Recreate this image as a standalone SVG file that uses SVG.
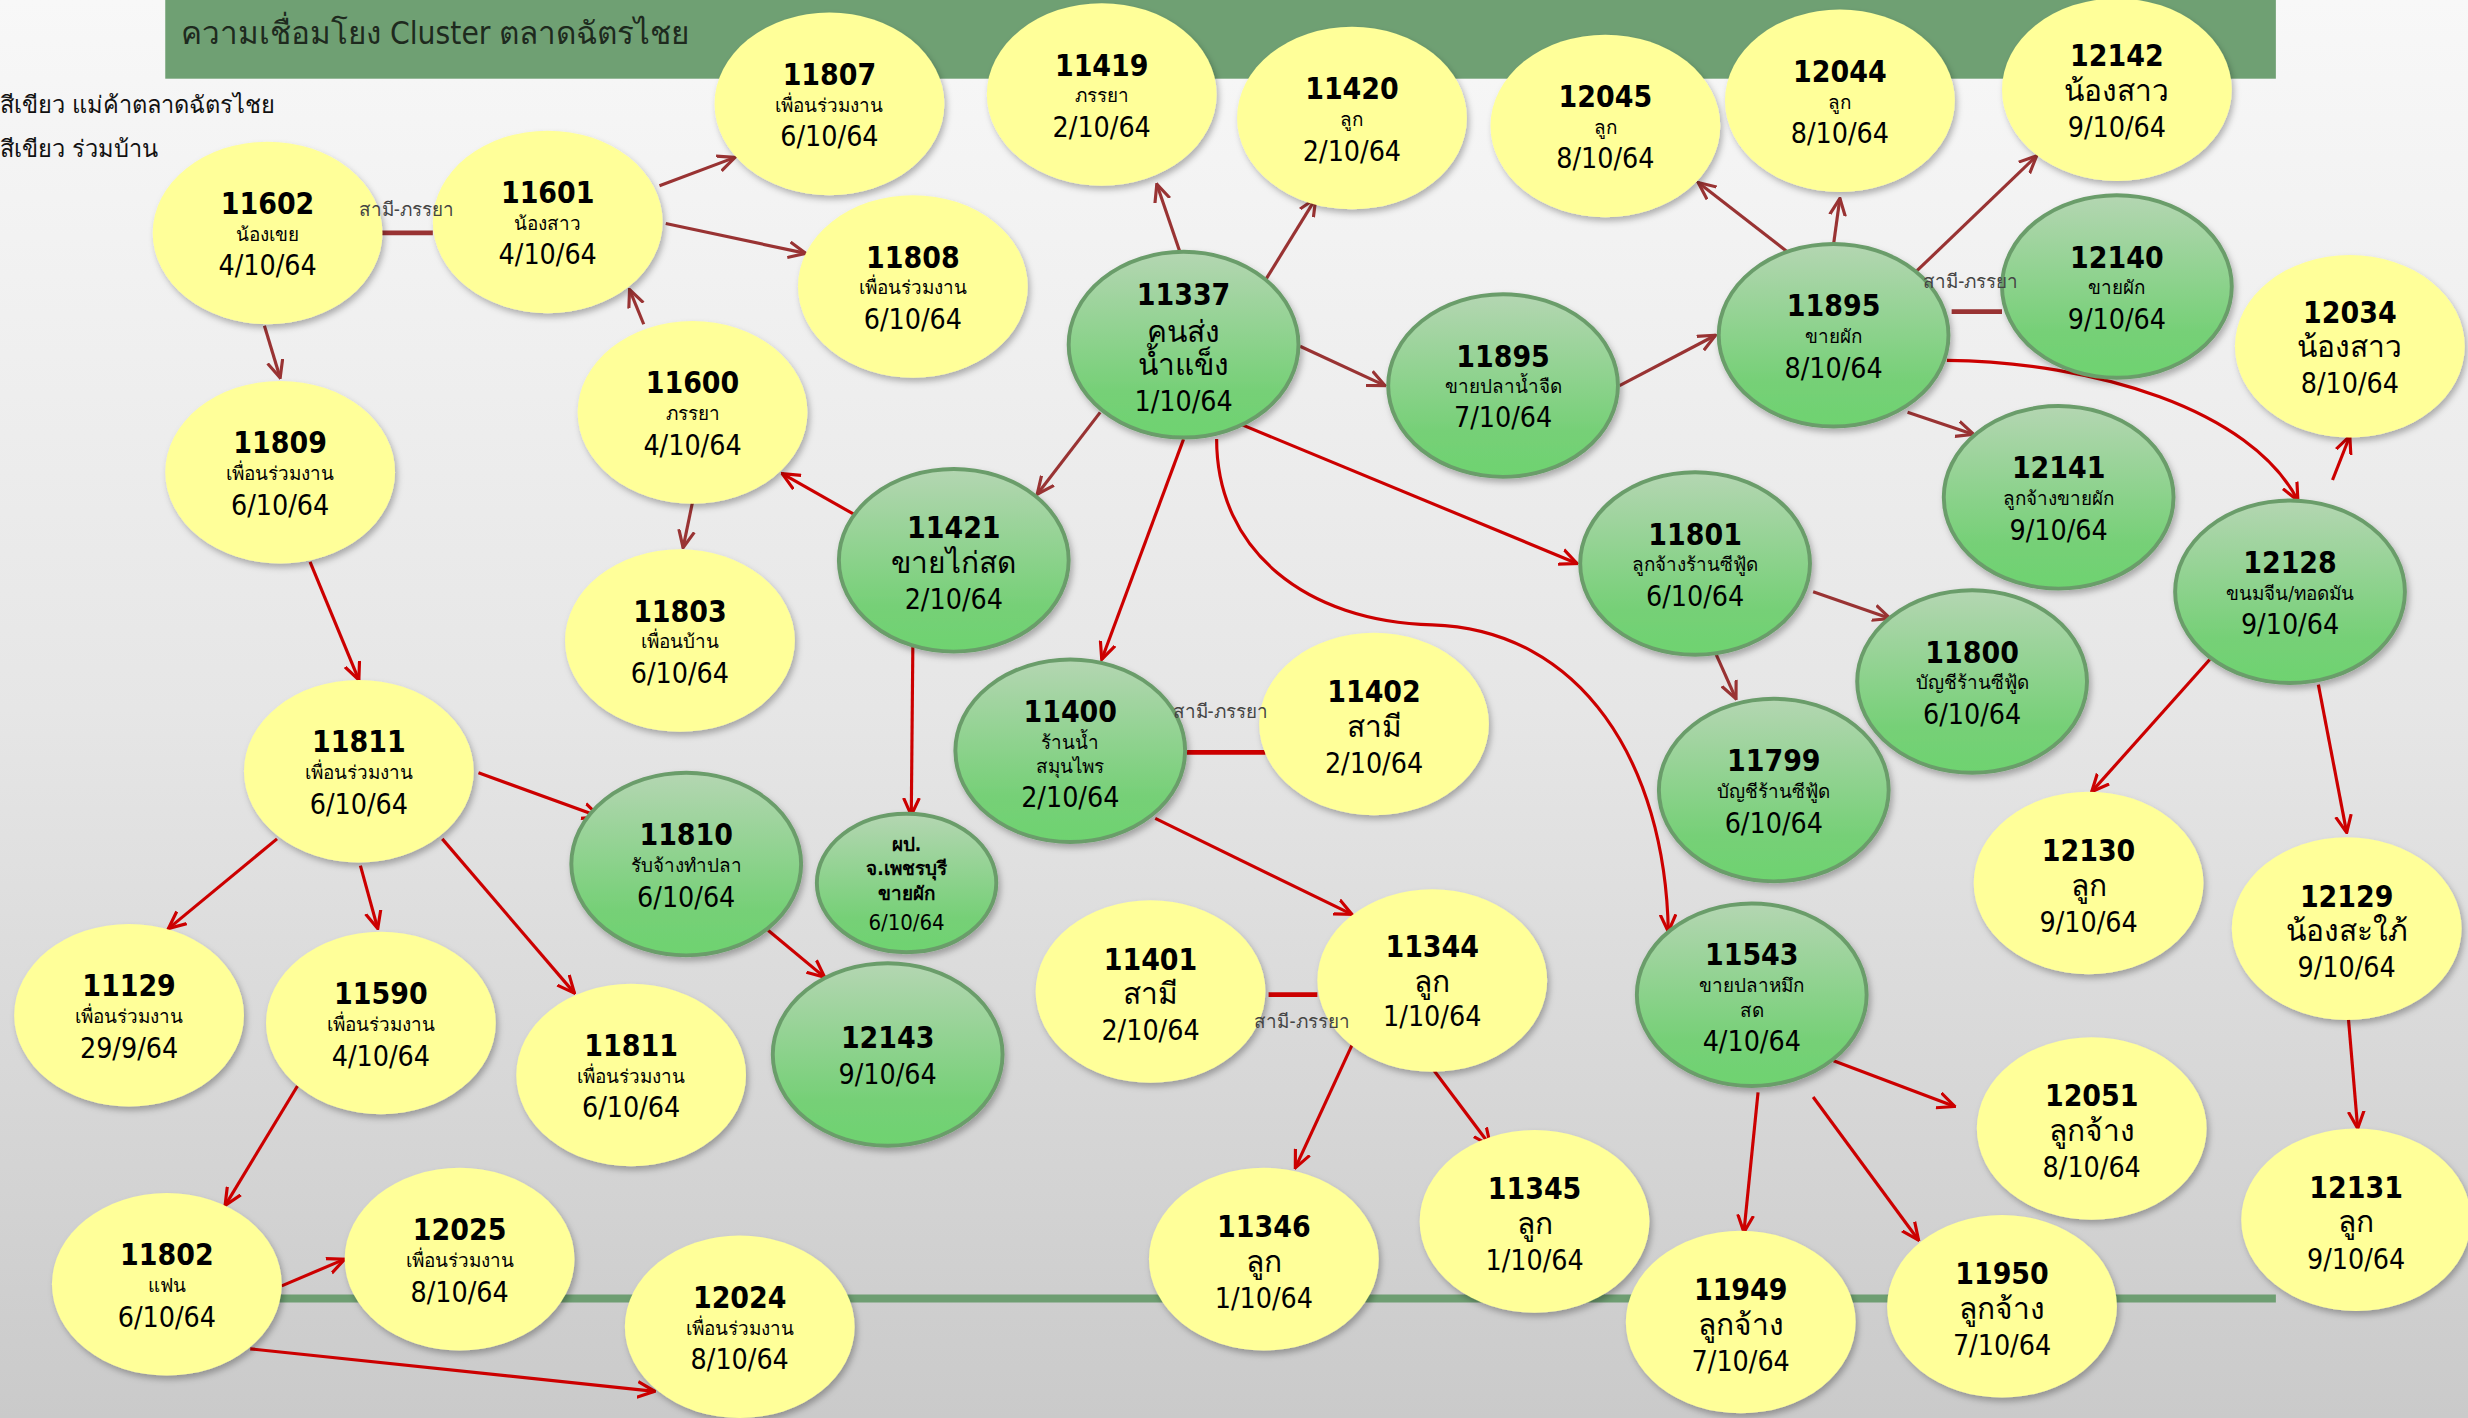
<svg xmlns="http://www.w3.org/2000/svg" width="2468" height="1418" viewBox="0 0 2468 1418">
<defs>
<linearGradient id="bg" x1="0" y1="0" x2="0" y2="1"><stop offset="0" stop-color="#f8f8f8"/><stop offset="0.5" stop-color="#e6e6e6"/><stop offset="1" stop-color="#cacaca"/></linearGradient>
<linearGradient id="gr" x1="0" y1="0" x2="0" y2="1"><stop offset="0" stop-color="#b4d6b2"/><stop offset="0.75" stop-color="#76d077"/><stop offset="1" stop-color="#6ed370"/></linearGradient>
<filter id="sh" x="-20%" y="-20%" width="140%" height="140%"><feDropShadow dx="1.5" dy="2.5" stdDeviation="2" flood-color="#000" flood-opacity="0.28"/></filter>
<marker id="mb" viewBox="0 0 12 12" refX="11" refY="6" markerWidth="12" markerHeight="12" markerUnits="userSpaceOnUse" orient="auto"><path d="M0,1 L11,6 L0,11" fill="none" stroke="#993333" stroke-width="2"/></marker>
<marker id="mr" viewBox="0 0 12 12" refX="11" refY="6" markerWidth="12" markerHeight="12" markerUnits="userSpaceOnUse" orient="auto"><path d="M0,1 L11,6 L0,11" fill="none" stroke="#cc0000" stroke-width="2"/></marker>
</defs>
<style>
.y{fill:#ffff99;filter:url(#sh)}
.g{fill:url(#gr);stroke:#6b9d6b;stroke-width:2.5;filter:url(#sh)}
text{font-family:"DejaVu Sans Condensed","DejaVu Sans","Noto Sans",sans-serif;text-anchor:middle;fill:#000}
.n{font-size:19px;font-weight:bold}
.d{font-size:18px}
.s{font-size:12px}
.l{font-size:19px}
.lab{font-size:12px;fill:#444;text-anchor:start}
.ttl{font-size:20px;fill:#1e2a1e;text-anchor:start}
.leg{font-size:15px;fill:#111;text-anchor:start}
.eb{stroke:#993333;stroke-width:2;fill:none;marker-end:url(#mb)}
.er{stroke:#cc0000;stroke-width:2;fill:none;marker-end:url(#mr)}
.sb{stroke:#993333;stroke-width:3;fill:none}
.sr{stroke:#cc0000;stroke-width:3;fill:none}
</style>
<rect width="2468" height="1418" fill="url(#bg)"/>
<g transform="scale(1.5739)">
<rect x="105" y="0" width="1341" height="50" fill="#6fa073"/>
<text class="ttl" x="115" y="28">ความเชื่อมโยง Cluster ตลาดฉัตรไชย</text>
<line x1="105" y1="825" x2="1446" y2="825" stroke="#6e9e72" stroke-width="5"/>
<text class="leg" x="0" y="72">สีเขียว แม่ค้าตลาดฉัตรไชย</text>
<text class="leg" x="0" y="100">สีเขียว ร่วมบ้าน</text>

<g id="connectors">
<path class="sb" d="M242,148 L275,148"/>
<path class="sb" d="M1240,198 L1272,198"/>
<path class="sr" d="M754,478 L804,478"/>
<path class="sr" d="M806,632 L837,632"/>

<path class="eb" d="M168,207 L178,240"/>
<path class="eb" d="M419,118 L467,100"/>
<path class="eb" d="M423,142 L512,161"/>
<path class="eb" d="M409,206 L400,184"/>
<path class="eb" d="M440,319 L434,348"/>
<path class="eb" d="M750,161 L735,117"/>
<path class="eb" d="M804,178 L836,126"/>
<path class="eb" d="M826,220 L880,245"/>
<path class="eb" d="M699,262 L659,314"/>
<path class="eb" d="M1029,245 L1090,213"/>
<path class="eb" d="M1137,161 L1079,116"/>
<path class="eb" d="M1165,155 L1169,126"/>
<path class="eb" d="M1218,172 L1294,99"/>
<path class="eb" d="M1212,262 L1254,276"/>
<path class="eb" d="M1152,376 L1201,393"/>
<path class="eb" d="M1090,415 L1103,444"/>

<path class="er" d="M1237,229 C1330,230 1430,260 1460,318"/>
<path class="er" d="M1482,305 L1493,277"/>
<path class="er" d="M1404,419 L1329,503"/>
<path class="er" d="M1473,435 L1491,529"/>
<path class="er" d="M1492,646 L1498,717"/>
<path class="er" d="M1165,674 L1242,703"/>
<path class="er" d="M1117,694 L1108,783"/>
<path class="er" d="M1152,697 L1219,788"/>
<path class="er" d="M859,664 L823,742"/>
<path class="er" d="M911,680 L947,728"/>
<path class="er" d="M734,520 L859,581"/>
<path class="er" d="M752,279 L700,419"/>
<path class="er" d="M787,269 L1002,358"/>
<path class="er" d="M773,279 C773,350 830,395 910,397 C1005,400 1058,485 1060,592"/>
<path class="er" d="M580,409 L579,518"/>
<path class="er" d="M543,327 L497,301"/>
<path class="er" d="M197,357 L228,432"/>
<path class="er" d="M304,491 L381,519"/>
<path class="er" d="M176,533 L107,590"/>
<path class="er" d="M229,550 L240,590"/>
<path class="er" d="M281,533 L365,631"/>
<path class="er" d="M488,591 L524,621"/>
<path class="er" d="M189,690 L143,766"/>
<path class="er" d="M179,817 L219,800"/>
<path class="er" d="M159,857 L416,884"/>
</g>

<g id="n11602"><ellipse class="y" cx="170" cy="148" rx="73" ry="58"/><text class="n" x="170" y="136">11602</text><text class="s" x="170" y="153">น้องเขย</text><text class="d" x="170" y="175">4/10/64</text></g>
<g id="n11601"><ellipse class="y" cx="348" cy="141" rx="73" ry="58"/><text class="n" x="348" y="129">11601</text><text class="s" x="348" y="146">น้องสาว</text><text class="d" x="348" y="168">4/10/64</text></g>
<g id="n11807"><ellipse class="y" cx="527" cy="66" rx="73" ry="58"/><text class="n" x="527" y="54">11807</text><text class="s" x="527" y="71">เพื่อนร่วมงาน</text><text class="d" x="527" y="93">6/10/64</text></g>
<g id="n11419"><ellipse class="y" cx="700" cy="60" rx="73" ry="58"/><text class="n" x="700" y="48">11419</text><text class="s" x="700" y="65">ภรรยา</text><text class="d" x="700" y="87">2/10/64</text></g>
<g id="n11420"><ellipse class="y" cx="859" cy="75" rx="73" ry="58"/><text class="n" x="859" y="63">11420</text><text class="s" x="859" y="80">ลูก</text><text class="d" x="859" y="102">2/10/64</text></g>
<g id="n12045"><ellipse class="y" cx="1020" cy="80" rx="73" ry="58"/><text class="n" x="1020" y="68">12045</text><text class="s" x="1020" y="85">ลูก</text><text class="d" x="1020" y="107">8/10/64</text></g>
<g id="n12044"><ellipse class="y" cx="1169" cy="64" rx="73" ry="58"/><text class="n" x="1169" y="52">12044</text><text class="s" x="1169" y="69">ลูก</text><text class="d" x="1169" y="91">8/10/64</text></g>
<g id="n12142"><ellipse class="y" cx="1345" cy="57" rx="73" ry="58"/><text class="n" x="1345" y="42">12142</text><text class="l" x="1345" y="64">น้องสาว</text><text class="d" x="1345" y="87">9/10/64</text></g>
<g id="n11808"><ellipse class="y" cx="580" cy="182" rx="73" ry="58"/><text class="n" x="580" y="170">11808</text><text class="s" x="580" y="187">เพื่อนร่วมงาน</text><text class="d" x="580" y="209">6/10/64</text></g>
<g id="n11337"><ellipse class="g" cx="752" cy="219" rx="73" ry="59"/><text class="n" x="752" y="194">11337</text><text class="l" x="752" y="217">คนส่ง</text><text class="l" x="752" y="238">น้ำแข็ง</text><text class="d" x="752" y="261">1/10/64</text></g>
<g id="n11600"><ellipse class="y" cx="440" cy="262" rx="73" ry="58"/><text class="n" x="440" y="250">11600</text><text class="s" x="440" y="267">ภรรยา</text><text class="d" x="440" y="289">4/10/64</text></g>
<g id="n11809"><ellipse class="y" cx="178" cy="300" rx="73" ry="58"/><text class="n" x="178" y="288">11809</text><text class="s" x="178" y="305">เพื่อนร่วมงาน</text><text class="d" x="178" y="327">6/10/64</text></g>
<g id="n11895a"><ellipse class="g" cx="955" cy="245" rx="73" ry="58"/><text class="n" x="955" y="233">11895</text><text class="s" x="955" y="250">ขายปลาน้ำจืด</text><text class="d" x="955" y="271">7/10/64</text></g>
<g id="n11895b"><ellipse class="g" cx="1165" cy="213" rx="73" ry="58"/><text class="n" x="1165" y="201">11895</text><text class="s" x="1165" y="218">ขายผัก</text><text class="d" x="1165" y="240">8/10/64</text></g>
<g id="n12140"><ellipse class="g" cx="1345" cy="182" rx="73" ry="58"/><text class="n" x="1345" y="170">12140</text><text class="s" x="1345" y="187">ขายผัก</text><text class="d" x="1345" y="209">9/10/64</text></g>
<g id="n12034"><ellipse class="y" cx="1493" cy="220" rx="73" ry="58"/><text class="n" x="1493" y="205">12034</text><text class="l" x="1493" y="227">น้องสาว</text><text class="d" x="1493" y="250">8/10/64</text></g>
<g id="n12141"><ellipse class="g" cx="1308" cy="316" rx="73" ry="58"/><text class="n" x="1308" y="304">12141</text><text class="s" x="1308" y="321">ลูกจ้างขายผัก</text><text class="d" x="1308" y="343">9/10/64</text></g>
<g id="n11421"><ellipse class="g" cx="606" cy="356" rx="73" ry="58"/><text class="n" x="606" y="342">11421</text><text class="l" x="606" y="364">ขายไก่สด</text><text class="d" x="606" y="387">2/10/64</text></g>
<g id="n11803"><ellipse class="y" cx="432" cy="407" rx="73" ry="58"/><text class="n" x="432" y="395">11803</text><text class="s" x="432" y="412">เพื่อนบ้าน</text><text class="d" x="432" y="434">6/10/64</text></g>
<g id="n11801"><ellipse class="g" cx="1077" cy="358" rx="73" ry="58"/><text class="n" x="1077" y="346">11801</text><text class="s" x="1077" y="363">ลูกจ้างร้านซีฟู้ด</text><text class="d" x="1077" y="385">6/10/64</text></g>
<g id="n12128"><ellipse class="g" cx="1455" cy="376" rx="73" ry="58"/><text class="n" x="1455" y="364">12128</text><text class="s" x="1455" y="381">ขนมจีน/ทอดมัน</text><text class="d" x="1455" y="403">9/10/64</text></g>
<g id="n11800"><ellipse class="g" cx="1253" cy="433" rx="73" ry="58"/><text class="n" x="1253" y="421">11800</text><text class="s" x="1253" y="438">บัญชีร้านซีฟู้ด</text><text class="d" x="1253" y="460">6/10/64</text></g>
<g id="n11400"><ellipse class="g" cx="680" cy="477" rx="73" ry="58"/><text class="n" x="680" y="459">11400</text><text class="s" x="680" y="476">ร้านน้ำ</text><text class="s" x="680" y="491">สมุนไพร</text><text class="d" x="680" y="513">2/10/64</text></g>
<g id="n11402"><ellipse class="y" cx="873" cy="460" rx="73" ry="58"/><text class="n" x="873" y="446">11402</text><text class="l" x="873" y="468">สามี</text><text class="d" x="873" y="491">2/10/64</text></g>
<g id="n11799"><ellipse class="g" cx="1127" cy="502" rx="73" ry="58"/><text class="n" x="1127" y="490">11799</text><text class="s" x="1127" y="507">บัญชีร้านซีฟู้ด</text><text class="d" x="1127" y="529">6/10/64</text></g>
<g id="n11811a"><ellipse class="y" cx="228" cy="490" rx="73" ry="58"/><text class="n" x="228" y="478">11811</text><text class="s" x="228" y="495">เพื่อนร่วมงาน</text><text class="d" x="228" y="517">6/10/64</text></g>
<g id="n11810"><ellipse class="g" cx="436" cy="549" rx="73" ry="58"/><text class="n" x="436" y="537">11810</text><text class="s" x="436" y="554">รับจ้างทำปลา</text><text class="d" x="436" y="576">6/10/64</text></g>
<g id="nPP"><ellipse class="g" cx="576" cy="561" rx="57" ry="44"/><text class="s" x="576" y="541" font-weight="bold">ผป.</text><text class="s" x="576" y="556" font-weight="bold">จ.เพชรบุรี</text><text class="s" x="576" y="572" font-weight="bold">ขายผัก</text><text x="576" y="591" font-size="14px">6/10/64</text></g>
<g id="n12130"><ellipse class="y" cx="1327" cy="561" rx="73" ry="58"/><text class="n" x="1327" y="547">12130</text><text class="l" x="1327" y="569">ลูก</text><text class="d" x="1327" y="592">9/10/64</text></g>
<g id="n12129"><ellipse class="y" cx="1491" cy="590" rx="73" ry="58"/><text class="n" x="1491" y="576">12129</text><text class="l" x="1491" y="598">น้องสะใภ้</text><text class="d" x="1491" y="621">9/10/64</text></g>
<g id="n11129"><ellipse class="y" cx="82" cy="645" rx="73" ry="58"/><text class="n" x="82" y="633">11129</text><text class="s" x="82" y="650">เพื่อนร่วมงาน</text><text class="d" x="82" y="672">29/9/64</text></g>
<g id="n11590"><ellipse class="y" cx="242" cy="650" rx="73" ry="58"/><text class="n" x="242" y="638">11590</text><text class="s" x="242" y="655">เพื่อนร่วมงาน</text><text class="d" x="242" y="677">4/10/64</text></g>
<g id="n11811b"><ellipse class="y" cx="401" cy="683" rx="73" ry="58"/><text class="n" x="401" y="671">11811</text><text class="s" x="401" y="688">เพื่อนร่วมงาน</text><text class="d" x="401" y="710">6/10/64</text></g>
<g id="n12143"><ellipse class="g" cx="564" cy="670" rx="73" ry="58"/><text class="n" x="564" y="666">12143</text><text class="d" x="564" y="689">9/10/64</text></g>
<g id="n11401"><ellipse class="y" cx="731" cy="630" rx="73" ry="58"/><text class="n" x="731" y="616">11401</text><text class="l" x="731" y="638">สามี</text><text class="d" x="731" y="661">2/10/64</text></g>
<g id="n11344"><ellipse class="y" cx="910" cy="623" rx="73" ry="58"/><text class="n" x="910" y="608">11344</text><text class="l" x="910" y="630">ลูก</text><text class="d" x="910" y="652">1/10/64</text></g>
<g id="n11543"><ellipse class="g" cx="1113" cy="632" rx="73" ry="58"/><text class="n" x="1113" y="613">11543</text><text class="s" x="1113" y="630">ขายปลาหมึก</text><text class="s" x="1113" y="646">สด</text><text class="d" x="1113" y="668">4/10/64</text></g>
<g id="n12051"><ellipse class="y" cx="1329" cy="717" rx="73" ry="58"/><text class="n" x="1329" y="703">12051</text><text class="l" x="1329" y="725">ลูกจ้าง</text><text class="d" x="1329" y="748">8/10/64</text></g>
<g id="n12131"><ellipse class="y" cx="1497" cy="775" rx="73" ry="58"/><text class="n" x="1497" y="761">12131</text><text class="l" x="1497" y="783">ลูก</text><text class="d" x="1497" y="806">9/10/64</text></g>
<g id="n11802"><ellipse class="y" cx="106" cy="816" rx="73" ry="58"/><text class="n" x="106" y="804">11802</text><text class="s" x="106" y="821">แฟน</text><text class="d" x="106" y="843">6/10/64</text></g>
<g id="n12025"><ellipse class="y" cx="292" cy="800" rx="73" ry="58"/><text class="n" x="292" y="788">12025</text><text class="s" x="292" y="805">เพื่อนร่วมงาน</text><text class="d" x="292" y="827">8/10/64</text></g>
<g id="n12024"><ellipse class="y" cx="470" cy="843" rx="73" ry="58"/><text class="n" x="470" y="831">12024</text><text class="s" x="470" y="848">เพื่อนร่วมงาน</text><text class="d" x="470" y="870">8/10/64</text></g>
<g id="n11346"><ellipse class="y" cx="803" cy="800" rx="73" ry="58"/><text class="n" x="803" y="786">11346</text><text class="l" x="803" y="808">ลูก</text><text class="d" x="803" y="831">1/10/64</text></g>
<g id="n11345"><ellipse class="y" cx="975" cy="776" rx="73" ry="58"/><text class="n" x="975" y="762">11345</text><text class="l" x="975" y="784">ลูก</text><text class="d" x="975" y="807">1/10/64</text></g>
<g id="n11949"><ellipse class="y" cx="1106" cy="840" rx="73" ry="58"/><text class="n" x="1106" y="826">11949</text><text class="l" x="1106" y="848">ลูกจ้าง</text><text class="d" x="1106" y="871">7/10/64</text></g>
<g id="n11950"><ellipse class="y" cx="1272" cy="830" rx="73" ry="58"/><text class="n" x="1272" y="816">11950</text><text class="l" x="1272" y="838">ลูกจ้าง</text><text class="d" x="1272" y="861">7/10/64</text></g>

<g id="connector-labels">
<text class="lab" x="228" y="137">สามี-ภรรยา</text>
<text class="lab" x="1222" y="183">สามี-ภรรยา</text>
<text class="lab" x="745" y="456">สามี-ภรรยา</text>
<text class="lab" x="797" y="653">สามี-ภรรยา</text>
</g>
</g>
</svg>
